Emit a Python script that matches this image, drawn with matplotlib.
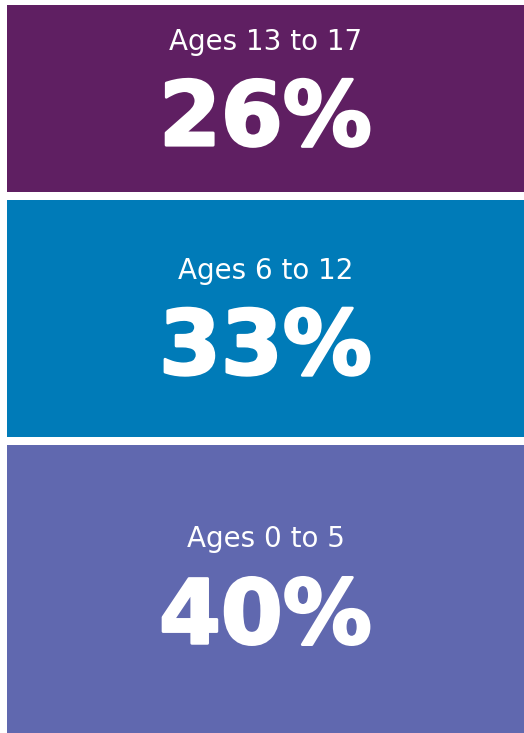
import matplotlib.pyplot as plt
import matplotlib.patheffects as pe

# share of children by age group (stacked top to bottom as in the graphic)
groups = ["Ages 0 to 5", "Ages 6 to 12", "Ages 13 to 17"]
shares = [40, 33, 26]
colors = ["#6068AF", "#007BB8", "#5F1F62"]

gap = 1.0  # white gap between blocks, in data units

fig = plt.figure(figsize=(5.24, 7.33), dpi=100)
ax = fig.add_axes([7 / 524, 0, 517 / 524, 728 / 733])

# per-block text offsets in pixels (label above centre, number below)
label_off = [50, 48, 57]
pct_off = [-30, -31, -22]

# thicken the big numbers a little, the original uses a black-weight face
heavy = [pe.withStroke(linewidth=2, foreground="white")]

bottom = 0
for i in range(len(shares)):
    ax.bar(0, shares[i], bottom=bottom, width=1, color=colors[i], linewidth=0)
    mid = bottom + shares[i] / 2
    ax.annotate(groups[i], (0, mid), xytext=(0, label_off[i]), textcoords="offset pixels",
                ha="center", va="center", color="white", fontsize=20, family="DejaVu Sans")
    ax.annotate(f"{shares[i]}%", (0, mid), xytext=(0, pct_off[i]), textcoords="offset pixels",
                ha="center", va="center", color="white", fontsize=64, fontweight="bold",
                family="DejaVu Sans", path_effects=heavy)
    bottom += shares[i] + gap

ax.set_xlim(-0.5, 0.5)
ax.set_ylim(0, sum(shares) + gap * (len(shares) - 1))
ax.axis("off")

fig.savefig("out.png", dpi=100)
